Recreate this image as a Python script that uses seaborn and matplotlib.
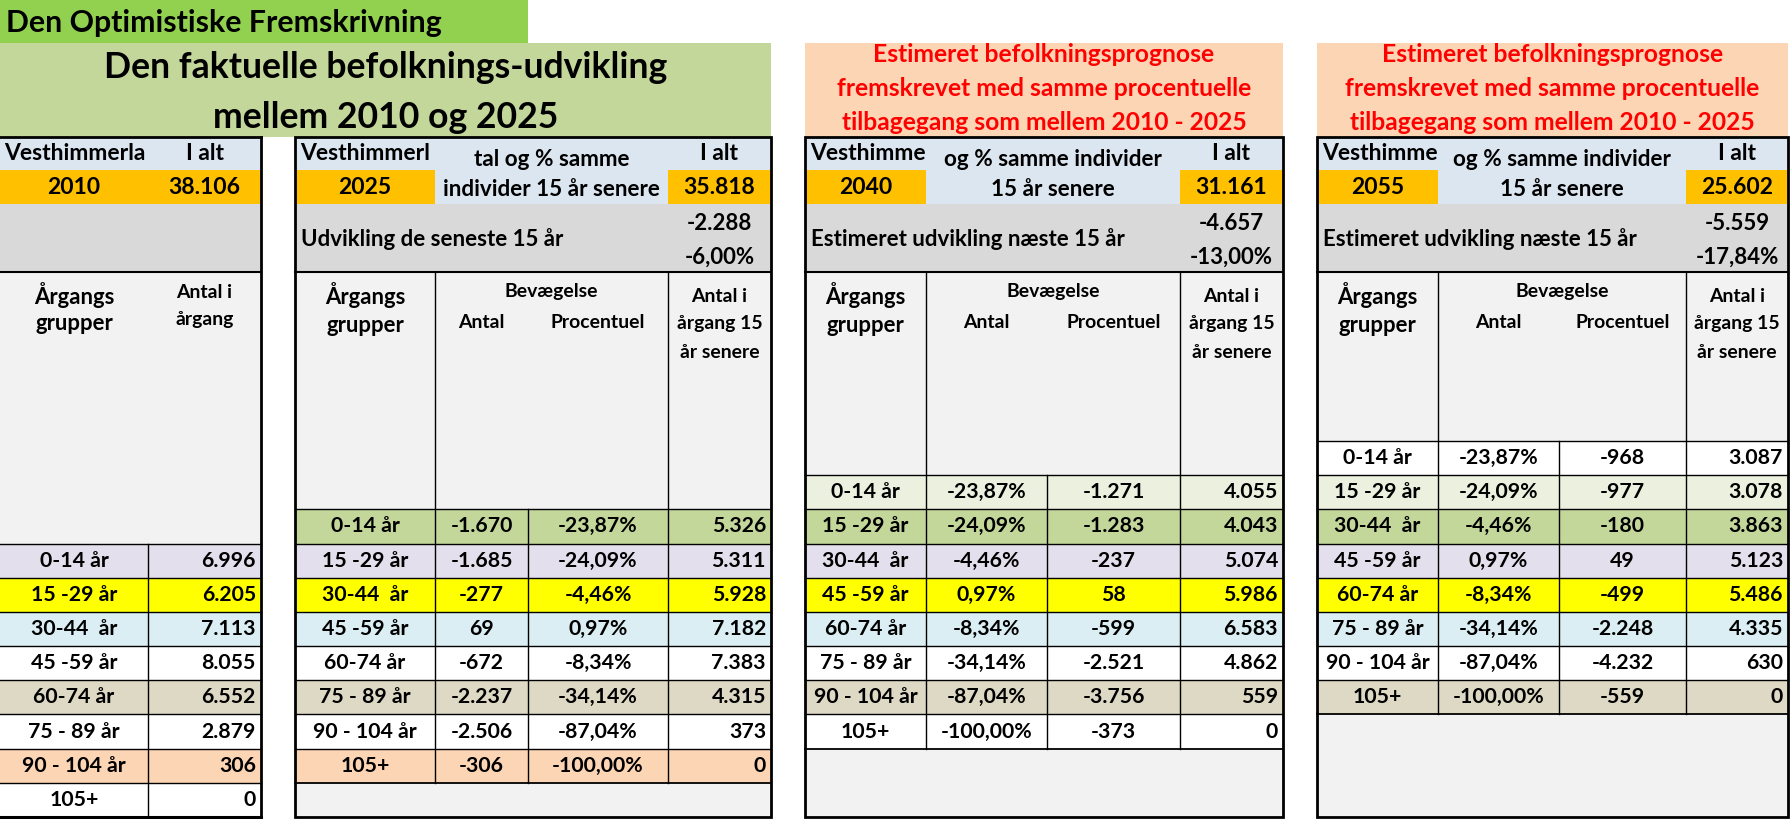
import matplotlib
matplotlib.use("Agg")
import matplotlib.pyplot as plt
import seaborn as sns
from matplotlib.patches import Rectangle
from matplotlib.transforms import Bbox

sns.set_theme(style="white")
plt.rcParams['font.family'] = ['Lato', 'DejaVu Sans']

# --- data -----------------------------------------------------------------
age_groups = ["0-14 år", "15 -29 år", "30-44  år", "45 -59 år", "60-74 år",
              "75 - 89 år", "90 - 104 år", "105+"]

years = ["2010", "2025", "2040", "2055"]
totals = [38106, 35818, 31161, 25602]
total_change = [None, -2288, -4657, -5559]
total_change_pct = [None, -6.00, -13.00, -17.84]

pop_2010 = [6996, 6205, 7113, 8055, 6552, 2879, 306, 0]

change_pct = [-23.87, -24.09, -4.46, 0.97, -8.34, -34.14, -87.04, -100.00]

change_2025 = [-1670, -1685, -277, 69, -672, -2237, -2506, -306]
pop_2025 = [5326, 5311, 5928, 7182, 7383, 4315, 373, 0]

change_2040 = [-1271, -1283, -237, 58, -599, -2521, -3756, -373]
pop_2040 = [4055, 4043, 5074, 5986, 6583, 4862, 559, 0]

change_2055 = [-968, -977, -180, 49, -499, -2248, -4232, -559]
pop_2055 = [3087, 3078, 3863, 5123, 5486, 4335, 630, 0]

# the municipality name is cut off by the cell width in the sheet
area_names = ["Vesthimmerla", "Vesthimmerl", "Vesthimme", "Vesthimme"]

top_label = "Den Optimistiske Fremskrivning"
title_lines = ["Den faktuelle befolknings-udvikling", "mellem 2010 og 2025"]
forecast_lines = ["Estimeret befolkningsprognose",
                  "fremskrevet med samme procentuelle",
                  "tilbagegang som mellem 2010 - 2025"]


def fmt_int(v):
    return f"{v:,}".replace(",", ".")


def fmt_pct(v):
    return f"{v:.2f}".replace(".", ",") + "%"


# --- layout ---------------------------------------------------------------
W, H = 1791, 819
GRID_TOP = 441
ROW_H = (817 - 441) / 11
Y_HEAD, Y_ORANGE, Y_GRAY, Y_COLHEAD, Y_BOTTOM = 137, 170, 204, 272, 817

row_colors = ["#FFFFFF", "#EBF1DE", "#C4D79B", "#E4DFEC", "#FFFF00", "#DAEEF3",
              "#FFFFFF", "#DDD9C4", "#FFFFFF", "#FCD5B4", "#FFFFFF"]

fig = plt.figure(figsize=(W / 100, H / 100), dpi=100)
ax = fig.add_axes([0, 0, 1, 1])
ax.set_xlim(0, W)
ax.set_ylim(H, 0)
ax.axis("off")
renderer = fig.canvas.get_renderer()


def fit(sample, width_px):
    # font size that makes `sample` about width_px wide (widths)
    t = ax.text(0, 0, sample, fontsize=20, fontweight="bold")
    w = t.get_window_extent(renderer).width
    t.remove()
    return 20 * width_px / w


SZ = dict(
    label=fit(top_label, 435),
    title=fit(title_lines[0], 564),
    pink=fit(forecast_lines[1], 414),
    head=fit("38.106", 72),
    mid=fit("og % samme individer", 219),
    dev=fit("Estimeret udvikling næste 15 år", 314),
    col=fit("Bevægelse", 93),
    grp=fit("grupper", 78),
    data=fit("-23,87%", 80),
)


def box(x0, x1, y0, y1, color):
    ax.add_patch(Rectangle((x0, y0), x1 - x0, y1 - y0, facecolor=color,
                           edgecolor="none", zorder=1))


def hline(x0, x1, y, lw=1.0):
    ax.plot([x0, x1], [y, y], color="black", lw=lw, solid_capstyle="projecting", zorder=3)


def vline(x, y0, y1, lw=1.0):
    ax.plot([x, x], [y0, y1], color="black", lw=lw, solid_capstyle="projecting", zorder=3)


def txt(x, y, s, kind="data", ha="center", color="black", clip=None):
    t = ax.text(x, y, s, ha=ha, va="center", fontsize=SZ[kind], color=color,
                fontweight="bold", zorder=4)
    if clip is not None:
        p = ax.transData.transform([[clip[0], clip[2]], [clip[1], clip[3]]])
        t.set_clip_box(Bbox.from_extents(p[:, 0].min(), p[:, 1].min(),
                                         p[:, 0].max(), p[:, 1].max()))
        t.set_clip_on(True)
    return t


def row_top(g):
    return GRID_TOP + g * ROW_H


# --- banners --------------------------------------------------------------
box(0, 528, 0, 43, "#92D050")
txt(6, 23, top_label, "label", ha="left")
box(0, 771, 43, Y_HEAD, "#C4D79B")
txt(386, 68, title_lines[0], "title")
txt(386, 117, title_lines[1], "title")

for bx0, bx1 in [(805, 1283), (1317, 1788)]:
    box(bx0, bx1, 43, Y_HEAD, "#FCD5B4")
    for k, line in enumerate(forecast_lines):
        txt((bx0 + bx1) / 2, 54 + k * 34, line, "pink", color="#FF0000")

# --- panel 1 (2010) -------------------------------------------------------
c = [0, 148, 261]
o = 3
box(c[0], c[2], Y_HEAD, Y_ORANGE, "#DCE6F1")
box(c[0], c[2], Y_ORANGE, Y_GRAY, "#FFC000")
box(c[0], c[2], Y_GRAY, Y_COLHEAD, "#D9D9D9")
box(c[0], c[2], Y_COLHEAD, row_top(o), "#F2F2F2")
txt(c[0] + 4, 154, area_names[0], "head", ha="left", clip=(c[0], c[1], Y_HEAD, Y_ORANGE))
txt((c[1] + c[2]) / 2, 154, "I alt", "head")
txt((c[0] + c[1]) / 2, 188, years[0], "head")
txt((c[1] + c[2]) / 2, 188, fmt_int(totals[0]), "head")
txt((c[0] + c[1]) / 2, 295, "Årgangs", "grp")
txt((c[0] + c[1]) / 2, 323, "grupper", "grp")
txt((c[1] + c[2]) / 2, 293, "Antal i", "col")
txt((c[1] + c[2]) / 2, 320, "årgang", "col")
for i, (lab, v) in enumerate(zip(age_groups, pop_2010)):
    y0, y1 = row_top(o + i), row_top(o + i + 1)
    box(c[0], c[2], y0, y1, row_colors[o + i])
    txt((c[0] + c[1]) / 2, (y0 + y1) / 2, lab)
    txt(c[2] - 5, (y0 + y1) / 2, fmt_int(v), ha="right")
    hline(c[0], c[2], y0)
vline(c[1], row_top(o), Y_BOTTOM)
hline(c[0], c[2], Y_COLHEAD, lw=1.5)
hline(c[0], c[2], Y_HEAD, lw=2)
hline(c[0], c[2], Y_BOTTOM, lw=2.2)
vline(c[2], Y_HEAD, Y_BOTTOM, lw=2)

# --- panels 2-4 (2025, 2040, 2055) ----------------------------------------
panels = [
    dict(cols=[295, 435, 528, 668, 771], offset=2,
         mid=["tal og % samme", "individer 15 år senere"],
         dev="Udvikling de seneste 15 år",
         c2=[fmt_int(v) for v in change_2025], c3=[fmt_pct(v) for v in change_pct],
         pop=pop_2025),
    dict(cols=[805, 926, 1047, 1180, 1283], offset=1,
         mid=["og % samme individer", "15 år senere"],
         dev="Estimeret udvikling næste 15 år",
         c2=[fmt_pct(v) for v in change_pct], c3=[fmt_int(v) for v in change_2040],
         pop=pop_2040),
    dict(cols=[1317, 1438, 1559, 1686, 1788], offset=0,
         mid=["og % samme individer", "15 år senere"],
         dev="Estimeret udvikling næste 15 år",
         c2=[fmt_pct(v) for v in change_pct], c3=[fmt_int(v) for v in change_2055],
         pop=pop_2055),
]

for k, p in enumerate(panels, start=1):
    c = p["cols"]
    o = p["offset"]
    mid_x = (c[1] + c[3]) / 2
    last_x = (c[3] + c[4]) / 2
    box(c[0], c[4], Y_HEAD, Y_GRAY, "#DCE6F1")
    box(c[0], c[1], Y_ORANGE, Y_GRAY, "#FFC000")
    box(c[3], c[4], Y_ORANGE, Y_GRAY, "#FFC000")
    box(c[0], c[4], Y_GRAY, Y_COLHEAD, "#D9D9D9")
    box(c[0], c[4], Y_COLHEAD, row_top(o), "#F2F2F2")
    box(c[0], c[4], row_top(o + 8), Y_BOTTOM, "#F2F2F2")

    txt(c[0] + 5, 154, area_names[k], "head", ha="left", clip=(c[0], c[1], Y_HEAD, Y_ORANGE))
    txt(last_x, 154, "I alt", "head")
    txt(mid_x, 160, p["mid"][0], "mid")
    txt(mid_x, 190, p["mid"][1], "mid")
    txt((c[0] + c[1]) / 2, 188, years[k], "head")
    txt(last_x, 188, fmt_int(totals[k]), "head")

    txt(c[0] + 6, 239, p["dev"], "dev", ha="left")
    txt(last_x, 223, fmt_int(total_change[k]), "dev")
    txt(last_x, 257, fmt_pct(total_change_pct[k]), "dev")

    txt((c[0] + c[1]) / 2, 295, "Årgangs", "grp")
    txt((c[0] + c[1]) / 2, 325, "grupper", "grp")
    txt(mid_x, 291, "Bevægelse", "col")
    txt((c[1] + c[2]) / 2, 323, "Antal", "col")
    txt((c[2] + c[3]) / 2, 323, "Procentuel", "col")
    txt(last_x, 297, "Antal i", "col")
    txt(last_x, 324, "årgang 15", "col")
    txt(last_x, 352, "år senere", "col")

    for i, lab in enumerate(age_groups):
        y0, y1 = row_top(o + i), row_top(o + i + 1)
        ym = (y0 + y1) / 2
        box(c[0], c[4], y0, y1, row_colors[o + i])
        txt((c[0] + c[1]) / 2, ym, lab)
        txt((c[1] + c[2]) / 2, ym, p["c2"][i])
        txt((c[2] + c[3]) / 2, ym, p["c3"][i])
        txt(c[4] - 5, ym, fmt_int(p["pop"][i]), ha="right")
        hline(c[0], c[4], y0)
    hline(c[0], c[4], row_top(o + 8), lw=1.3)
    vline(c[1], Y_COLHEAD, row_top(o + 8))
    vline(c[3], Y_COLHEAD, row_top(o + 8))
    vline(c[2], row_top(o), row_top(o + 8))
    hline(c[0], c[4], Y_COLHEAD, lw=1.5)

    ax.add_patch(Rectangle((c[0], Y_HEAD), c[4] - c[0], Y_BOTTOM - Y_HEAD,
                           facecolor="none", edgecolor="black", lw=2, zorder=5))

fig.savefig("out.png", dpi=100)
